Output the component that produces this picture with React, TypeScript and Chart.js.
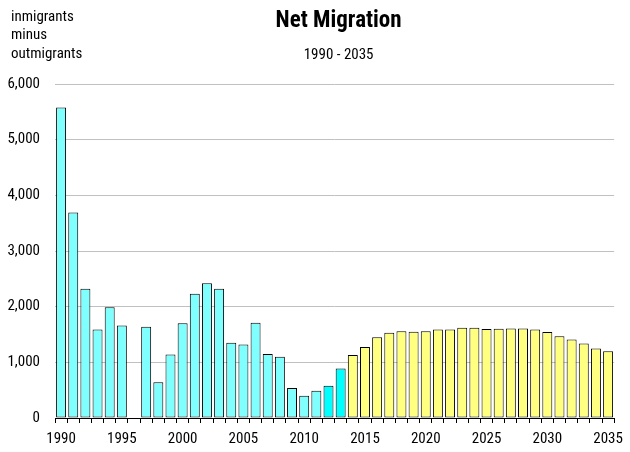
import React, { useEffect, useRef } from "react";
import { Chart, registerables } from "chart.js";

Chart.register(...registerables);

const years: string[] = [
  "1990", "1991", "1992", "1993", "1994", "1995", "1996", "1997", "1998", "1999",
  "2000", "2001", "2002", "2003", "2004", "2005", "2006", "2007", "2008", "2009",
  "2010", "2011", "2012", "2013", "2014", "2015", "2016", "2017", "2018", "2019",
  "2020", "2021", "2022", "2023", "2024", "2025", "2026", "2027", "2028", "2029",
  "2030", "2031", "2032", "2033", "2034", "2035",
];

const netMigration: number[] = [
  5580, 3690, 2320, 1590, 1990, 1660, 0, 1640, 640, 1140,
  1700, 2230, 2420, 2320, 1350, 1320, 1710, 1150, 1100, 540,
  400, 490, 580, 890, 1130, 1275, 1450, 1530, 1560, 1550,
  1560, 1590, 1590, 1620, 1620, 1600, 1605, 1610, 1610, 1590,
  1545, 1470, 1410, 1340, 1250, 1200,
];

// which group each year belongs to
const groups: string[] = [
  "hist", "hist", "hist", "hist", "hist", "hist", "hist", "hist", "hist", "hist",
  "hist", "hist", "hist", "hist", "hist", "hist", "hist", "hist", "hist", "hist",
  "hist", "hist", "est", "est", "proj", "proj", "proj", "proj", "proj", "proj",
  "proj", "proj", "proj", "proj", "proj", "proj", "proj", "proj", "proj", "proj",
  "proj", "proj", "proj", "proj", "proj", "proj",
];

const yTicks: number[] = [0, 1000, 2000, 3000, 4000, 5000, 6000];

const titleText = "Net Migration";
const subtitleText = "1990 - 2035";
const yAxisNote: string[] = ["inmigrants", "minus", "outmigrants"];

const groupColors: Record<string, string> = {
  hist: "#80FFFF",
  est: "#00FFFF",
  proj: "#FFFF80",
};

const FONT = "'Roboto Condensed', 'Liberation Sans', Arial, sans-serif";

const textPlugin = {
  id: "textPlugin",
  afterDraw(chart: any) {
    const ctx = chart.ctx as CanvasRenderingContext2D;
    const area = chart.chartArea;
    const cx = (area.left + area.right) / 2 + 4;
    ctx.save();
    ctx.fillStyle = "#000";
    ctx.textAlign = "center";
    ctx.textBaseline = "alphabetic";
    ctx.font = `bold 23px ${FONT}`;
    ctx.fillText(titleText, cx, 27);
    ctx.font = `15px ${FONT}`;
    ctx.fillText(subtitleText, cx, 59);
    ctx.textAlign = "left";
    const baselines = [21, 39.3, 57.6];
    yAxisNote.forEach((t, i) => ctx.fillText(t, 11, baselines[i]));
    ctx.restore();
  },
};

export default function App() {
  const ref = useRef<HTMLCanvasElement | null>(null);

  useEffect(() => {
    document.body.style.margin = "0";
    if (!ref.current) return;
    Chart.defaults.font.family = FONT;
    Chart.defaults.font.size = 15;
    Chart.defaults.color = "#000";
    const chart = new Chart(ref.current, {
      type: "bar",
      data: {
        labels: years,
        datasets: [
          {
            data: netMigration,
            backgroundColor: groups.map((g) => groupColors[g]),
            borderColor: "#000",
            borderWidth: 1,
            borderSkipped: false,
            barPercentage: 0.82,
            categoryPercentage: 1,
          },
        ],
      },
      options: {
        animation: false,
        responsive: false,
        layout: { padding: { top: 84, right: 9, left: 0, bottom: 0 } },
        plugins: {
          legend: { display: false },
          tooltip: { enabled: false },
          title: { display: false },
        },
        scales: {
          x: {
            offset: true,
            afterFit: (s: any) => {
              s.height = 34;
            },
            grid: {
              offset: true,
              drawOnChartArea: false,
              drawTicks: true,
              tickLength: 5,
              color: "#000",
            },
            border: { display: true, color: "#000", width: 1 },
            ticks: {
              autoSkip: false,
              maxRotation: 0,
              padding: 7,
              font: { size: 15 },
              callback: function (this: any, _v: any, i: number) {
                const y = years[i];
                return Number(y) % 5 === 0 ? y : "";
              },
            },
          },
          y: {
            min: 0,
            max: 6000,
            afterFit: (s: any) => {
              s.width = 55;
            },
            afterBuildTicks: (s: any) => {
              s.ticks = yTicks.map((v) => ({ value: v }));
            },
            grid: { color: "#C0C0C0", drawTicks: false, lineWidth: 1 },
            border: { display: false },
            ticks: {
              padding: 15,
              font: { size: 15 },
              callback: (v: any) => Number(v).toLocaleString("en-US"),
            },
          },
        },
      },
      plugins: [textPlugin],
    });
    return () => chart.destroy();
  }, []);

  return (
    <div style={{ width: 630, height: 452 }}>
      <canvas ref={ref} width={630} height={452} />
    </div>
  );
}
